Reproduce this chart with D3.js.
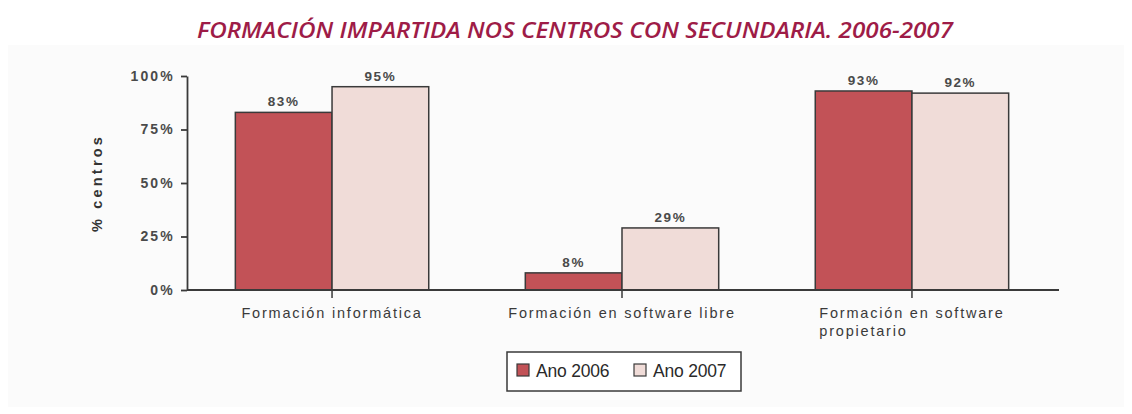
<!DOCTYPE html>
<html>
<head>
<meta charset="utf-8">
<script src="https://cdn.jsdelivr.net/npm/d3@7"></script>
<style>
  html, body { margin: 0; padding: 0; background: #ffffff; }
  svg { display: block; }
</style>
</head>
<body>
<svg id="chart" width="1132" height="414"></svg>
<script>
// Data
const categories = ["Formación informática", "Formación en software libre", "Formación en software propietario"];
const categoryLines = [["Formación informática"], ["Formación en software libre"], ["Formación en software", "propietario"]];
const seriesNames = ["Ano 2006", "Ano 2007"];
const values2006 = [83, 8, 93];
const values2007 = [95, 29, 92];
const yTicks = [0, 25, 50, 75, 100];
const titleText = "FORMACIÓN IMPARTIDA NOS CENTROS CON SECUNDARIA. 2006-2007";
const yTitle = "% centros";

const colors = ["#c25257", "#f0dcd8"];
const ink = "#3a3a3a";

const svg = d3.select("#chart");

// Soft panel behind the chart
svg.append("rect")
  .attr("x", 8).attr("y", 45).attr("width", 1116).attr("height", 362)
  .attr("fill", "#fbfbfb");

// Title
svg.append("text")
  .attr("x", 575).attr("y", 38)
  .attr("text-anchor", "middle")
  .attr("font-family", "'Open Sans', 'Liberation Sans', sans-serif")
  .attr("font-style", "italic")
  .attr("font-weight", 600)
  .attr("font-size", 22)
  .attr("fill", "#9e1c47")
  .attr("textLength", 756)
  .attr("lengthAdjust", "spacingAndGlyphs")
  .text(titleText);

const margin = { left: 187, right: 1059, top: 76, bottom: 290 };

const x0 = d3.scaleBand()
  .domain(categories)
  .range([margin.left, 1057])
  .paddingInner(0.333)
  .paddingOuter(0.1667);

const x1 = d3.scaleBand()
  .domain(seriesNames)
  .range([0, x0.bandwidth()])
  .padding(0);

const y = d3.scaleLinear()
  .domain([0, 100])
  .range([margin.bottom, margin.top]);

const rows = categories.map((c, i) => ({
  category: c,
  values: [
    { series: seriesNames[0], value: values2006[i] },
    { series: seriesNames[1], value: values2007[i] }
  ]
}));

const color = d3.scaleOrdinal().domain(seriesNames).range(colors);

// Bars
const groups = svg.append("g").selectAll("g")
  .data(rows).join("g")
  .attr("transform", d => `translate(${x0(d.category)},0)`);

groups.selectAll("rect")
  .data(d => d.values).join("rect")
  .attr("x", d => x1(d.series))
  .attr("y", d => y(d.value))
  .attr("width", x1.bandwidth())
  .attr("height", d => y(0) - y(d.value))
  .attr("fill", d => color(d.series))
  .attr("stroke", ink)
  .attr("stroke-width", 1.5);

// Value labels
groups.selectAll("text.val")
  .data(d => d.values).join("text")
  .attr("class", "val")
  .attr("x", d => x1(d.series) + x1.bandwidth() / 2)
  .attr("y", d => y(d.value) - 6)
  .attr("text-anchor", "middle")
  .attr("font-family", "'Liberation Sans', Arial, sans-serif")
  .attr("font-weight", 700)
  .attr("font-size", 13.5)
  .attr("letter-spacing", 1.6)
  .attr("fill", "#4a4a4a")
  .text(d => d.value + "%");

// Y axis
const yAxis = svg.append("g")
  .attr("transform", `translate(${margin.left},0)`)
  .call(d3.axisLeft(y).tickValues(yTicks).tickSize(6).tickSizeOuter(0).tickPadding(6)
    .tickFormat(d => d + "%"));
yAxis.select(".domain").attr("stroke", ink).attr("stroke-width", 1.8);
yAxis.selectAll(".tick line").attr("stroke", ink).attr("stroke-width", 1.8);
yAxis.selectAll(".tick text")
  .attr("font-family", "'Liberation Sans', Arial, sans-serif")
  .attr("font-weight", 700)
  .attr("font-size", 14)
  .attr("letter-spacing", 2.2)
  .attr("fill", "#4a4a4a");

// X axis
const xAxis = svg.append("g")
  .attr("transform", `translate(0,${margin.bottom})`)
  .call(d3.axisBottom(x0).tickSize(8).tickSizeOuter(0).tickFormat(""));
xAxis.select(".domain")
  .attr("d", `M${margin.left},0H${margin.right}`)
  .attr("stroke", ink).attr("stroke-width", 1.8);
xAxis.selectAll(".tick line").attr("stroke", ink).attr("stroke-width", 1.5);

// Category labels (wrapped lines left-aligned to the first line)
const labelG = svg.append("g")
  .attr("font-family", "'Liberation Sans', Arial, sans-serif")
  .attr("font-size", 14.5)
  .attr("letter-spacing", 1.8)
  .attr("fill", "#3a3a3a");

categoryLines.forEach((lines, i) => {
  const cx = x0(categories[i]) + x0.bandwidth() / 2;
  const t = labelG.append("text").attr("y", 318);
  lines.forEach((ln, j) => {
    t.append("tspan").attr("dy", j === 0 ? 0 : 18).text(ln);
  });
  // measure first line to place all lines flush left
  const first = t.select("tspan").node().getComputedTextLength();
  const left = cx - first / 2;
  t.selectAll("tspan").attr("x", left);
});

// Y axis title
svg.append("text")
  .attr("transform", `translate(102,${(margin.top + margin.bottom) / 2}) rotate(-90)`)
  .attr("text-anchor", "middle")
  .attr("font-family", "'Liberation Sans', Arial, sans-serif")
  .attr("font-weight", 700)
  .attr("font-size", 14.5)
  .attr("letter-spacing", 3.2)
  .attr("fill", "#333")
  .text(yTitle);

// Legend
const legend = svg.append("g").attr("transform", "translate(507,352)");
legend.append("rect")
  .attr("width", 234).attr("height", 39)
  .attr("fill", "#ffffff")
  .attr("stroke", ink).attr("stroke-width", 1.5);

const legendItems = legend.selectAll("g.item")
  .data(seriesNames).join("g")
  .attr("class", "item")
  .attr("transform", (d, i) => `translate(${10 + i * 117},12)`);
legendItems.append("rect")
  .attr("width", 12).attr("height", 12)
  .attr("fill", d => color(d))
  .attr("stroke", ink).attr("stroke-width", 1.2);
legendItems.append("text")
  .attr("x", 19).attr("y", 13)
  .attr("font-family", "'Liberation Sans', Arial, sans-serif")
  .attr("font-size", 17.5)
  .attr("letter-spacing", -0.2)
  .attr("fill", "#2a2a2a")
  .text(d => d);
</script>
</body>
</html>
